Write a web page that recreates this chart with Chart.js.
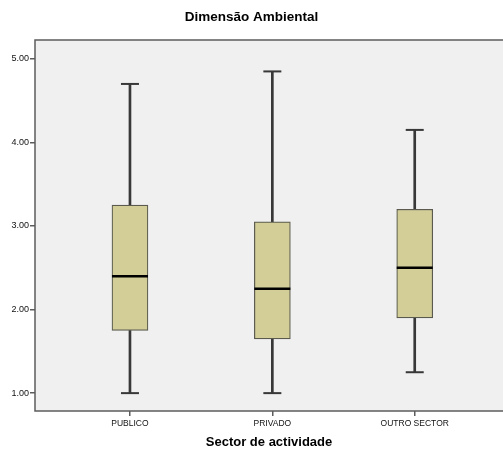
<!DOCTYPE html>
<html>
<head>
<meta charset="utf-8">
<script src="https://cdn.jsdelivr.net/npm/chart.js@4/dist/chart.umd.min.js"></script>
<style>
  body { margin: 0; background: #fff; overflow: hidden; }
</style>
</head>
<body>
<canvas id="myChart" width="503" height="449"></canvas>
<script>
// datos
const sectores = ['PUBLICO', 'PRIVADO', 'OUTRO SECTOR'];
const minimos  = [1.00, 1.00, 1.25];
const q1       = [1.75, 1.65, 1.90];
const medianas = [2.40, 2.25, 2.50];
const q3       = [3.25, 3.05, 3.20];
const maximos  = [4.70, 4.85, 4.15];
const yTicks   = [1, 2, 3, 4, 5];

const fuente = "'Liberation Sans', Arial, sans-serif";

var cajas = [], bigoteAbajo = [], bigoteArriba = [], topes = [], meds = [];
for (var i = 0; i < sectores.length; i++) {
  cajas.push({x: i + 1, y: [q1[i], q3[i]]});
  bigoteAbajo.push({x: i + 1, y: [minimos[i], q1[i]]});
  bigoteArriba.push({x: i + 1, y: [q3[i], maximos[i]]});
  topes.push({x: i + 1, y: minimos[i]});
  topes.push({x: i + 1, y: maximos[i]});
  meds.push({x: i + 1, y: medianas[i]});
}

// fondo gris y marco del area
const marco = {
  id: 'marco',
  beforeDatasetsDraw(chart) {
    const a = chart.chartArea, c = chart.ctx;
    c.save();
    c.fillStyle = '#f0f0f0';
    c.fillRect(a.left, a.top, a.right - a.left, a.bottom - a.top);
    c.strokeStyle = '#5c5c5c';
    c.lineWidth = 1.5;
    c.beginPath();
    c.moveTo(a.right + 2, a.top);
    c.lineTo(a.left, a.top);
    c.lineTo(a.left, a.bottom);
    c.lineTo(a.right + 2, a.bottom);
    c.stroke();
    c.restore();
  }
};

const ctx = document.getElementById('myChart');
new Chart(ctx, {
  type: 'bar',
  data: {
    datasets: [
      { type: 'bar', data: bigoteAbajo, backgroundColor: '#383838', barThickness: 2, grouped: false, order: 3 },
      { type: 'bar', data: bigoteArriba, backgroundColor: '#383838', barThickness: 2, grouped: false, order: 3 },
      { type: 'bar', data: cajas, backgroundColor: '#d3ce97', borderColor: '#5a5a4e',
        borderWidth: 1.2, borderSkipped: false, barThickness: 36, grouped: false, order: 2 },
      { type: 'scatter', data: topes, pointStyle: 'line', radius: 9, borderColor: '#383838',
        borderWidth: 2, order: 1 },
      { type: 'scatter', data: meds, pointStyle: 'line', radius: 18, borderColor: '#000',
        borderWidth: 2.5, order: 0 }
    ]
  },
  options: {
    responsive: false,
    animation: false,
    layout: { padding: 0, autoPadding: false },
    plugins: {
      legend: { display: false },
      tooltip: { enabled: false },
      title: {
        display: true,
        text: 'Dimensão Ambiental',
        color: '#000',
        font: { family: fuente, size: 13.5, weight: 'bold', lineHeight: 1.2 },
        padding: { top: 9, bottom: 14.8 }
      }
    },
    scales: {
      x: {
        type: 'linear',
        min: 0.333,
        max: 3.62,
        offset: false,
        afterBuildTicks: function(s) { s.ticks = [1, 2, 3].map(function(v) { return {value: v}; }); },
        afterFit: function(s) { s.height = 38; s.paddingLeft = 0; s.paddingRight = 0; },
        ticks: {
          color: '#111',
          font: { family: fuente, size: 8.5 },
          padding: 3,
          maxRotation: 0,
          autoSkip: false,
          callback: function(v) { return sectores[v - 1]; }
        },
        grid: { offset: false, drawOnChartArea: false, drawTicks: true, tickLength: 5, color: '#5c5c5c', lineWidth: 1.5 },
        border: { display: false },
        title: {
          display: true,
          text: 'Sector de actividade',
          color: '#000',
          font: { family: fuente, size: 13, weight: 'bold', lineHeight: 1 },
          padding: { top: 4, bottom: 0 }
        }
      },
      y: {
        type: 'linear',
        min: 0.786,
        max: 5.226,
        afterBuildTicks: function(s) { s.ticks = yTicks.map(function(v) { return {value: v}; }); },
        afterFit: function(s) { s.width = 35; },
        ticks: {
          color: '#111',
          font: { family: fuente, size: 9 },
          padding: 1,
          callback: function(v) { return v.toFixed(2); }
        },
        grid: { drawOnChartArea: false, drawTicks: true, tickLength: 5, color: '#5c5c5c', lineWidth: 1.5 },
        border: { display: false }
      }
    }
  },
  plugins: [marco]
});
</script>
</body>
</html>
